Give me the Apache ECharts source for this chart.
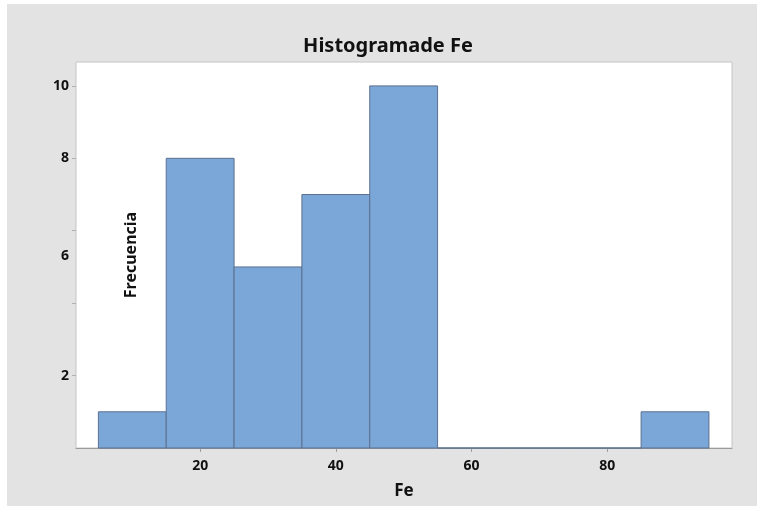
<!DOCTYPE html>
<html>
<head>
<meta charset="utf-8">
<script src="https://cdn.jsdelivr.net/npm/echarts@6/dist/echarts.min.js"></script>
<style>
html,body{margin:0;padding:0;background:#ffffff;width:757px;height:506px;overflow:hidden;}
#chart{position:absolute;left:7px;top:4px;width:750px;height:502px;}
</style>
</head>
<body>
<div id="chart"></div>
<script>
const chartTitle = 'Histogramade Fe';
const xName = 'Fe';
const yName = 'Frecuencia';
const binEdges = [5, 15, 25, 35, 45, 55, 65, 75, 85, 95];
const counts = [1, 8, 5, 7, 10, 0, 0, 0, 1];
const xTicks = [20, 40, 60, 80];
const yTicks = [2, 4, 6, 8, 10];
const yTickLabels = ['2', '', '6', '8', '10'];

const bins = counts.map((c, i) => [binEdges[i], binEdges[i + 1], c]);
const FONT = '"Noto Sans", "Open Sans", sans-serif';

const chart = echarts.init(document.getElementById('chart'), null, {renderer: 'canvas'});
chart.setOption({
  backgroundColor: '#e3e3e3',
  animation: false,
  title: {
    text: chartTitle,
    left: 376, top: 27,
    textAlign: 'center',
    textStyle: {fontFamily: FONT, fontWeight: 'bold', fontSize: 20, color: '#111'}
  },
  grid: {
    left: 69, right: 25, top: 58, bottom: 58,
    show: true, backgroundColor: '#ffffff', borderColor: '#c4c4c4', borderWidth: 1
  },
  xAxis: {
    type: 'value', min: 1.7, max: 98.4,
    name: xName, nameLocation: 'middle', nameGap: 35,
    nameTextStyle: {fontFamily: FONT, fontWeight: 'bold', fontSize: 17, color: '#111'},
    axisLine: {show: true, lineStyle: {color: '#9a9a9a', width: 1}},
    axisTick: {show: true, customValues: xTicks, length: 4, lineStyle: {color: '#a0a0a0'}},
    axisLabel: {customValues: xTicks, margin: 11, fontFamily: FONT, fontWeight: 'bold', fontSize: 14, color: '#111'},
    splitLine: {show: false}
  },
  yAxis: {
    type: 'value', min: 0, max: 10.66,
    name: yName, nameLocation: 'middle', nameGap: -63, nameRotate: 90,
    nameTextStyle: {fontFamily: FONT, fontWeight: 'bold', fontSize: 16, color: '#111'},
    axisLine: {show: false},
    axisTick: {show: true, customValues: yTicks, length: 4, lineStyle: {color: '#b0b0b0'}},
    axisLabel: {
      customValues: yTicks, margin: 7,
      fontFamily: FONT, fontWeight: 'bold', fontSize: 14, color: '#111',
      formatter: function (v) {
        const i = yTicks.indexOf(v);
        const t = i >= 0 ? yTickLabels[i] : '';
        if (t === '6') return '{shift|' + t + '}';
        return t;
      },
      rich: {shift: {padding: [50, 0, 0, 0], fontFamily: FONT, fontWeight: 'bold', fontSize: 14, color: '#111'}}
    },
    splitLine: {show: false}
  },
  series: [{
    type: 'custom',
    data: bins,
    encode: {x: [0, 1], y: 2},
    renderItem: function (params, api) {
      const p0 = api.coord([api.value(0), api.value(2)]);
      const p1 = api.coord([api.value(1), 0]);
      return {
        type: 'rect',
        shape: {x: p0[0], y: p0[1], width: p1[0] - p0[0], height: p1[1] - p0[1]},
        style: {fill: '#7ba7d8', stroke: '#5b7090', lineWidth: 1}
      };
    }
  }]
});
</script>
</body>
</html>
